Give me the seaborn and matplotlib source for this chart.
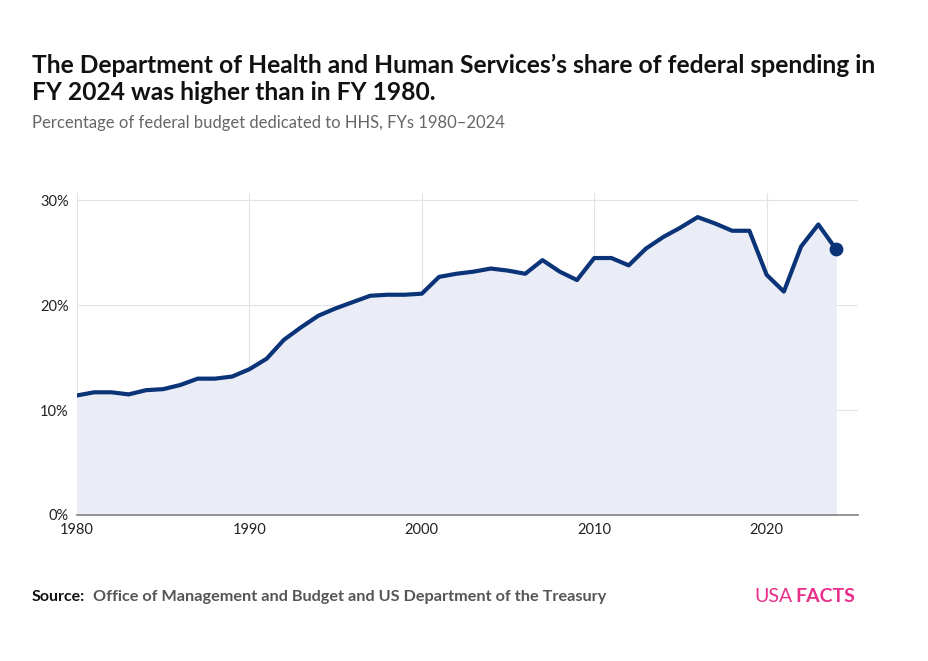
import matplotlib
matplotlib.use("Agg")
import matplotlib.pyplot as plt
import seaborn as sns
import pandas as pd

years = list(range(1980, 2025))
share = [11.4, 11.7, 11.7, 11.5, 11.9, 12.0, 12.4, 13.0, 13.0, 13.2,
         13.9, 14.9, 16.7, 17.9, 19.0, 19.7, 20.3, 20.9, 21.0, 21.0,
         21.1, 22.7, 23.0, 23.2, 23.5, 23.3, 23.0, 24.3, 23.2, 22.4,
         24.5, 24.5, 23.8, 25.4, 26.5, 27.4, 28.4, 27.8, 27.1, 27.1,
         22.9, 21.3, 25.6, 27.7, 25.4]
df = pd.DataFrame({"year": years, "share": share})

sns.set_theme(style="white")
plt.rcParams["font.family"] = ["Lato", "DejaVu Sans"]

navy = "#0b3378"
fig = plt.figure(figsize=(9.29, 6.61), dpi=100)
ax = fig.add_axes([77 / 929, 1 - 515 / 661, 781 / 929, 322 / 661])

ax.fill_between(df["year"], df["share"], color="#eaedf6", zorder=1)
sns.lineplot(data=df, x="year", y="share", color=navy, linewidth=3, ax=ax, zorder=3)
ax.scatter(df["year"].iloc[-1], df["share"].iloc[-1], s=80, color=navy, zorder=4)

ax.set_xlim(1980, 2025.3)
ax.set_ylim(0, 30.7)
ax.set_xticks([1980, 1990, 2000, 2010, 2020])
ax.set_yticks([0, 10, 20, 30])
ax.set_yticklabels(["0%", "10%", "20%", "30%"])
ax.grid(True, color="#e3e3e3", linewidth=0.8)
ax.set_axisbelow(True)
for s in ["top", "right", "left"]:
    ax.spines[s].set_visible(False)
ax.spines["bottom"].set_color("#888888")
ax.tick_params(axis="both", labelsize=10.5, colors="#222222", length=0, pad=6)
ax.set_xlabel("")
ax.set_ylabel("")

fig.text(32 / 929, 1 - 79 / 661,
         "The Department of Health and Human Services’s share of federal spending in\nFY 2024 was higher than in FY 1980.",
         fontsize=17.7, fontweight="bold", va="center", ha="left", linespacing=1.25, color="#111111")
fig.text(32 / 929, 1 - 123 / 661, "Percentage of federal budget dedicated to HHS, FYs 1980–2024",
         fontsize=12, color="#666666", va="center", ha="left")
fig.text(32 / 929, 1 - 597 / 661, "Source:", fontsize=11.5, fontweight="bold",
         color="#111111", va="center", ha="left")
fig.text(93 / 929, 1 - 597 / 661, "Office of Management and Budget and US Department of the Treasury",
         fontsize=11.7, fontweight="bold", color="#555555", va="center", ha="left")
fig.text(754 / 929, 1 - 597 / 661, "USA", fontsize=14, color="#e8308a", va="center", ha="left")
fig.text(795 / 929, 1 - 597 / 661, "FACTS", fontsize=14, fontweight="bold", color="#e8308a",
         va="center", ha="left")

fig.savefig("out.png", dpi=100)
